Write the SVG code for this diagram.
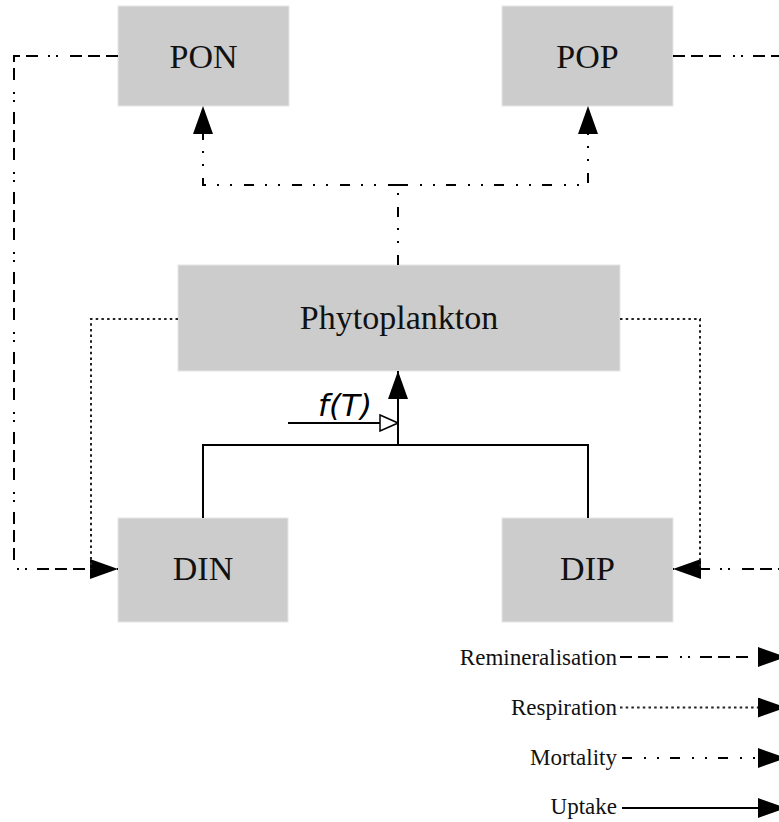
<svg xmlns="http://www.w3.org/2000/svg" width="779" height="822" viewBox="0 0 779 822">
<style>
.box{fill:#cccccc;stroke:#e6e6e6;stroke-width:1}
.lbl{font-family:"Liberation Serif","Times New Roman",serif;font-size:34px;fill:#111;text-anchor:middle}
.leg{font-family:"Liberation Serif","Times New Roman",serif;font-size:23px;fill:#111;text-anchor:end}
.ln{fill:none;stroke:#000;stroke-width:2}
.remin{stroke-dasharray:12 6 12 6 12 12 2 6 2 10}
.resp{stroke-dasharray:2.5 3.2;stroke:#222}
.mort{stroke-dasharray:10 12 2 11 2 11}
</style>
<defs>
<marker id="ah" viewBox="0 0 28 20" refX="28" refY="10" markerWidth="28" markerHeight="20" markerUnits="userSpaceOnUse" orient="auto">
<path d="M0,0 L28,10 L0,20 Z" fill="#000"/>
</marker>
<marker id="hol" viewBox="0 0 20 18" refX="19" refY="9" markerWidth="20" markerHeight="18" markerUnits="userSpaceOnUse" orient="auto">
<path d="M1,1 L19,9 L1,17 Z" fill="#fff" stroke="#000" stroke-width="1.5"/>
</marker>
</defs>
<g id="PON"><rect class="box" x="118" y="6" width="171" height="100"/><text class="lbl" x="203.5" y="68">PON</text></g>
<g id="POP"><rect class="box" x="502" y="6" width="171" height="100"/><text class="lbl" x="587.5" y="68">POP</text></g>
<g id="Phytoplankton"><rect class="box" x="178" y="265" width="442" height="106"/><text class="lbl" x="399" y="329">Phytoplankton</text></g>
<g id="DIN"><rect class="box" x="118" y="518" width="170" height="104"/><text class="lbl" x="203" y="580">DIN</text></g>
<g id="DIP"><rect class="box" x="502" y="518" width="171" height="104"/><text class="lbl" x="587.5" y="580">DIP</text></g>
<g id="connectors">
<path class="ln remin" d="M118,56 H14 V569 H118" marker-end="url(#ah)"/>
<path class="ln remin" d="M673,56 H795 V569 H673" marker-end="url(#ah)"/>
<path class="ln resp" d="M178,319 H91 V569"/>
<path class="ln resp" d="M620,319 H700 V569"/>
<path class="ln mort" d="M398,265 V185"/>
<path class="ln mort" d="M398,185 H203 V106" marker-end="url(#ah)"/>
<path class="ln mort" d="M398,185 H588 V106" marker-end="url(#ah)"/>
<path class="ln" d="M203,518 V445 H588 V518"/>
<path class="ln" d="M398,445 V371" marker-end="url(#ah)"/>
<path class="ln" stroke-width="1.8" d="M288,423 H398" marker-end="url(#hol)"/>
<text x="318" y="416" font-family="DejaVu Sans, sans-serif" font-style="italic" font-size="31" fill="#000">f(T)</text>
</g>
<g id="legend">
<text class="leg" x="617" y="665">Remineralisation</text>
<path class="ln remin" d="M620,657 H786" marker-end="url(#ah)"/>
<text class="leg" x="617" y="715">Respiration</text>
<path class="ln resp" d="M620,707.5 H786" marker-end="url(#ah)"/>
<text class="leg" x="617" y="765">Mortality</text>
<path class="ln mort" d="M622,758 H786" marker-end="url(#ah)"/>
<text class="leg" x="617" y="814">Uptake</text>
<path class="ln" d="M622,808 H786" marker-end="url(#ah)"/>
</g>
</svg>
